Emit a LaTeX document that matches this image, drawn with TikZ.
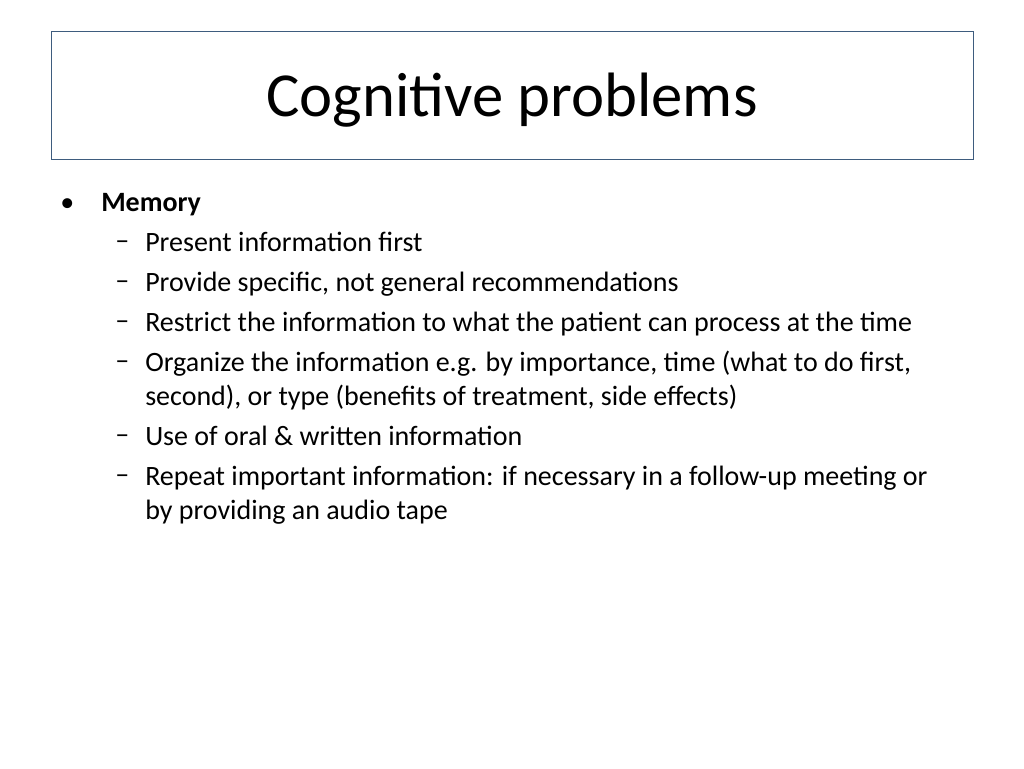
\documentclass[tikz,border=0pt]{standalone}
\usepackage{fontspec}
\setmainfont{Carlito}
\begin{document}
\begin{tikzpicture}[x=0.75pt,y=-0.75pt,
  line/.style={anchor=base west,inner sep=0pt,font=\fontsize{21}{25}\selectfont},
  bmark/.style={anchor=base west,inner sep=0pt,font=\fontsize{21}{25}\selectfont}]
\useasboundingbox (0,0) rectangle (1024,768);
\definecolor{frame}{HTML}{3E5C7E}
\node[draw=frame,line width=0.8pt,minimum width=922*0.75pt,minimum height=128*0.75pt,anchor=north west,inner sep=0pt] (title) at (51,31) {};
\node[font=\fontsize{47}{56}\selectfont] (tt) at (512,100) {Cognitive problems};
\node[bmark] (b1) at (60,211) {•};
\node[line] (l0) at (101,211) {\textbf{Memory}};
\foreach \y/\t [count=\i] in {251/{Present information first},291/{Provide specific, not general recommendations},331/{Restrict the information to what the patient can process at the time},371/{Organize the information e.g. by importance, time (what to do first,},445/{Use of oral \& written information},485/{Repeat important information: if necessary in a follow-up meeting or}}{
  \node[bmark] (d\i) at (115,\y-2) {–};
  \node[line] (l\i) at (145,\y) {\t};
}
\node[line] (c1) at (145,405) {second), or type (benefits of treatment, side effects)};
\node[line] (c2) at (145,519) {by providing an audio tape};
\end{tikzpicture}
\end{document}
